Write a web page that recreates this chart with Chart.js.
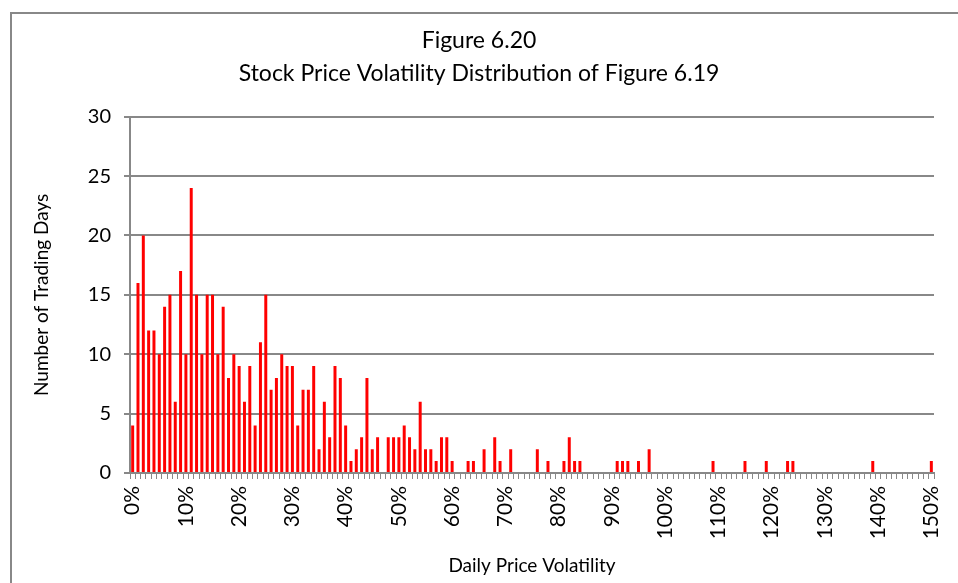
<!DOCTYPE html>
<html>
<head>
<meta charset="utf-8">
<script src="https://cdn.jsdelivr.net/npm/chart.js@4.4.1/dist/chart.umd.min.js"></script>
<style>
  html, body { margin: 0; padding: 0; background: #fff; }
  #wrap { width: 958px; height: 583px; }
</style>
</head>
<body>
<div id="wrap"><canvas id="volChart" width="958" height="583"></canvas></div>
<script>
// volatility buckets, one per percent
const volatility = Array.from({ length: 151 }, (_, i) => i + '%');

const tickLabels = ['0%', '10%', '20%', '30%', '40%', '50%', '60%', '70%',
  '80%', '90%', '100%', '110%', '120%', '130%', '140%', '150%'];

const tradingDays = [
  4, 16, 20, 12, 12, 10, 14, 15, 6, 17,
  10, 24, 15, 10, 15, 15, 10, 14, 8, 10,
  9, 6, 9, 4, 11, 15, 7, 8, 10, 9,
  9, 4, 7, 7, 9, 2, 6, 3, 9, 8,
  4, 1, 2, 3, 8, 2, 3, 0, 3, 3,
  3, 4, 3, 2, 6, 2, 2, 1, 3, 3,
  1, 0, 0, 1, 1, 0, 2, 0, 3, 1,
  0, 2, 0, 0, 0, 0, 2, 0, 1, 0,
  0, 1, 3, 1, 1, 0, 0, 0, 0, 0,
  0, 1, 1, 1, 0, 1, 0, 2, 0, 0,
  0, 0, 0, 0, 0, 0, 0, 0, 0, 1,
  0, 0, 0, 0, 0, 1, 0, 0, 0, 1,
  0, 0, 0, 1, 1, 0, 0, 0, 0, 0,
  0, 0, 0, 0, 0, 0, 0, 0, 0, 1,
  0, 0, 0, 0, 0, 0, 0, 0, 0, 0,
  1
];

const yTicks = [0, 5, 10, 15, 20, 25, 30];

const GRAY = '#888888';
const FONT = 'Lato';

Chart.defaults.font.family = FONT;
Chart.defaults.color = '#000';

// white page plus the outer frame of the chart object
const frame = {
  id: 'frame',
  beforeDraw(chart) {
    const ctx = chart.ctx;
    ctx.save();
    ctx.fillStyle = '#fff';
    ctx.fillRect(0, 0, chart.width, chart.height);
    ctx.strokeStyle = GRAY;
    ctx.lineWidth = 2;
    ctx.strokeRect(11, 13, chart.width + 20, chart.height + 20);
    ctx.restore();
  }
};

new Chart(document.getElementById('volChart'), {
  type: 'bar',
  data: {
    labels: volatility,
    datasets: [{
      label: 'Number of Trading Days',
      data: tradingDays,
      backgroundColor: '#ff0000',
      barPercentage: 0.56,
      categoryPercentage: 1
    }]
  },
  options: {
    responsive: false,
    animation: false,
    layout: { padding: { left: 24, right: 24, top: 0, bottom: 0 } },
    plugins: {
      legend: { display: false },
      tooltip: { enabled: false },
      title: {
        display: true,
        text: ['Figure 6.20', 'Stock Price Volatility Distribution of Figure 6.19'],
        font: { size: 23, weight: 'normal', lineHeight: 1.45 },
        color: '#000',
        padding: { top: 24, bottom: 26 }
      }
    },
    scales: {
      x: {
        grid: {
          offset: true,
          drawOnChartArea: false,
          color: GRAY,
          tickColor: GRAY,
          tickLength: 6,
          lineWidth: 1
        },
        border: { color: GRAY, width: 2 },
        ticks: {
          autoSkip: false,
          minRotation: 90,
          maxRotation: 90,
          padding: 7,
          font: { size: 21 },
          callback: (v, i) => tickLabels.includes(volatility[i]) ? volatility[i] : ''
        },
        title: {
          display: true,
          text: 'Daily Price Volatility',
          font: { size: 19 },
          padding: { top: 0, bottom: 6 }
        },
        afterFit: (scale) => {
          scale.height = 110;
          scale.paddingLeft = 0;
          scale.paddingRight = 0;
        }
      },
      y: {
        min: 0,
        max: 30,
        afterBuildTicks: (scale) => { scale.ticks = yTicks.map((v) => ({ value: v })); },
        grid: { color: GRAY, lineWidth: 2, tickLength: 6, tickColor: GRAY },
        border: { color: GRAY, width: 2 },
        ticks: { padding: 13, font: { size: 20 } },
        title: {
          display: true,
          text: 'Number of Trading Days',
          font: { size: 19 },
          padding: { top: 6, bottom: 0 }
        },
        afterFit: (scale) => { scale.width = 106; }
      }
    }
  },
  plugins: [frame]
});
</script>
</body>
</html>
